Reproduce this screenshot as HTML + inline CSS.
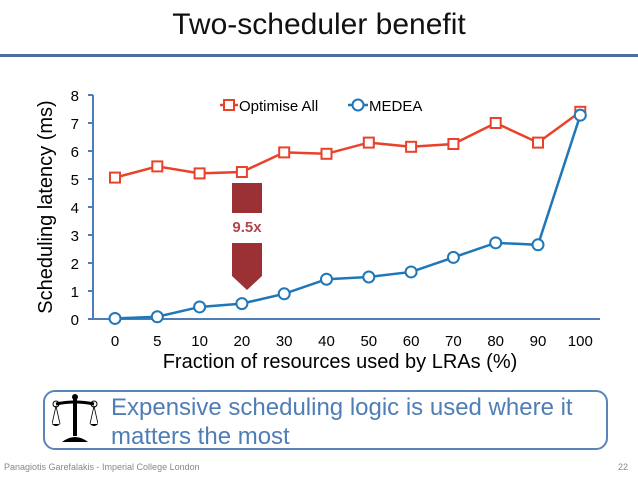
<!DOCTYPE html>
<html><head><meta charset="utf-8"><style>
body{margin:0;background:#fff;width:638px;height:479px;overflow:hidden;position:relative;font-family:"Liberation Sans",sans-serif}
.a{position:absolute}
</style></head><body>
<div class="a" style="left:0;width:638px;top:8px;text-align:center;font-size:30px;color:#111">Two-scheduler benefit</div>
<div class="a" style="left:0;width:638px;top:54px;height:3px;background:#4a6fa0"></div>
<svg class="a" style="left:0;top:0" width="638" height="479">
<g id="g"></g>
</svg>
<div class="a" style="left:43px;top:390px;width:565px;height:60px;border:2px solid #5b84b8;border-radius:12px;box-sizing:border-box"></div>
<svg class="a" style="left:52px;top:394px" width="46" height="50" viewBox="0 0 46 50">
<rect x="21" y="4" width="4" height="38" fill="#000"/><circle cx="23" cy="3" r="3" fill="#000"/>
<path d="M4 10 Q23 6 42 10" stroke="#000" stroke-width="3" fill="none"/>
<circle cx="4" cy="10" r="3" fill="none" stroke="#000"/><circle cx="42" cy="10" r="3" fill="none" stroke="#000"/>
<path d="M4 12 L0 30 M4 12 L8 30 M42 12 L38 30 M42 12 L46 30" stroke="#000" stroke-width="0.8"/>
<path d="M0 30 Q4 34 8 30 Z M38 30 Q42 34 46 30 Z" fill="#000"/>
<path d="M10 48 Q23 38 36 48 Z" fill="#000"/>
</svg>
<div class="a" style="left:111px;top:393px;font-size:24px;line-height:29px;color:#4f7db6">Expensive scheduling logic is used where it<br>matters the most</div>
<div class="a" style="left:4px;top:462px;font-size:9px;color:#888">Panagiotis Garefalakis - Imperial College London</div>
<div class="a" style="left:618px;top:462px;font-size:9px;color:#888">22</div>
<script>
const categories=["0","5","10","20","30","40","50","60","70","80","90","100"];
const optimiseAll=[5.05,5.45,5.2,5.25,5.95,5.9,6.3,6.15,6.25,7.0,6.3,7.4];
const medea=[0.02,0.08,0.43,0.55,0.9,1.42,1.5,1.68,2.2,2.72,2.65,7.28];
const yTicks=[0,1,2,3,4,5,6,7,8];
const NS="http://www.w3.org/2000/svg";
const g=document.getElementById('g');
const X=i=>115+i*42.3;
const Y=v=>319-v*28;
function mk(t,a,p){const e=document.createElementNS(NS,t);for(const k in a)e.setAttribute(k,a[k]);(p||g).appendChild(e);return e;}
let e;
e=mk('line',{x1:93,y1:Y(8),x2:93,y2:319,stroke:'#4f7db6','stroke-width':2});


e=mk('line',{x1:88,y1:319,x2:600,y2:319,stroke:'#4f7db6','stroke-width':2});


yTicks.forEach(v=>{
 mk('line',{x1:88,y1:Y(v),x2:93,y2:Y(v),stroke:'#4f7db6','stroke-width':2});
 e=mk('text',{x:79,y:Y(v)+6,'font-size':15,'text-anchor':'end',fill:'#000'});e.textContent=v;
 
 
});
categories.forEach((c,i)=>{
 e=mk('text',{x:X(i),y:346,'font-size':15,'text-anchor':'middle',fill:'#000'});e.textContent=c;
 
 
});
e=mk('text',{x:340,y:368,'font-size':20,'text-anchor':'middle',fill:'#000'});e.textContent='Fraction of resources used by LRAs (%)';


e=mk('text',{x:0,y:0,'font-size':20,'text-anchor':'middle',fill:'#000',transform:'translate(52,207) rotate(-90)'});e.textContent='Scheduling latency (ms)';


// arrow annotation
e=mk('path',{d:'M232 183 H262 V213 H232 Z M232 243 H262 V276 L247 290 L232 276 Z',fill:'#9b3134'});


e=mk('text',{x:247,y:232,'font-size':15,'font-weight':'bold','text-anchor':'middle',fill:'#b2474e'});e.textContent='9.5x';


function series(vals,col,name,shape){
 e=mk('polyline',{points:vals.map((v,i)=>X(i)+','+Y(v)).join(' '),fill:'none',stroke:col,'stroke-width':2.5});
 
 
 vals.forEach((v,i)=>{
  if(shape==='sq')e=mk('rect',{x:X(i)-5,y:Y(v)-5,width:10,height:10,fill:'#fff',stroke:col,'stroke-width':2});
  else e=mk('circle',{cx:X(i),cy:Y(v),r:5.5,fill:'#fff',stroke:col,'stroke-width':2});
  
  
 });
}
series(optimiseAll,'#e8432a','optimise-all','sq');
series(medea,'#1f77b8','medea','ci');
// legend
mk('line',{x1:220,y1:105,x2:238,y2:105,stroke:'#e8432a','stroke-width':2.5});
e=mk('rect',{x:224,y:100,width:10,height:10,fill:'#fff',stroke:'#e8432a','stroke-width':2});


e=mk('text',{x:239,y:111,'font-size':15,fill:'#000'});e.textContent='Optimise All';


mk('line',{x1:348,y1:105,x2:368,y2:105,stroke:'#1f77b8','stroke-width':2.5});
e=mk('circle',{cx:358,cy:105,r:5.5,fill:'#fff',stroke:'#1f77b8','stroke-width':2});


e=mk('text',{x:369,y:111,'font-size':15,fill:'#000'});e.textContent='MEDEA';


</script>
</body></html>
